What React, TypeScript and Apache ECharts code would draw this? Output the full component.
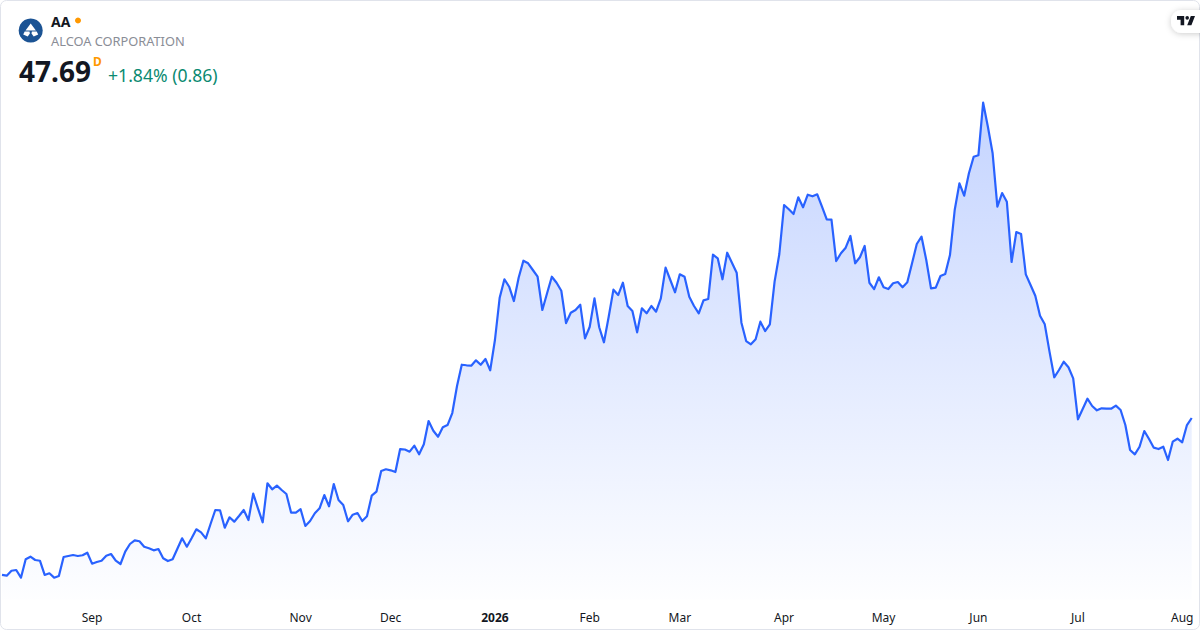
import React, { useEffect, useRef } from "react";
import * as echarts from "echarts";

const symbol = "AA";
const companyName = "ALCOA CORPORATION";
const lastPrice = "47.69";
const changeText = "+1.84% (0.86)";
const intervalMark = "D";

// Daily closes, one per trading day
const closes: number[] = [
  28.07, 27.98, 28.6, 28.69, 27.73, 30.03, 30.35, 29.94, 29.85, 28.07, 28.28, 27.73, 27.94, 30.31, 30.44, 30.56, 30.44, 30.53, 30.85,
  29.48, 29.69, 29.85, 30.48, 30.69, 29.85, 29.44, 30.98, 31.94, 32.4, 32.28, 31.6, 31.4, 31.15, 31.31, 30.15, 29.81, 30.03, 31.35, 32.65, 31.6,
  32.65, 33.78, 33.4, 32.65, 34.44, 36.19, 36.15, 33.98, 35.28, 34.73, 35.44, 36.19, 34.94, 38.23, 36.4, 34.65, 39.53, 38.78, 39.23, 38.69, 38.19, 35.85, 35.85,
  36.29, 34.19, 34.81, 35.78, 36.4, 38.06, 36.65, 39.44, 37.44, 36.81, 34.78, 35.6, 35.81, 34.81, 35.4, 37.98, 38.48,
  41.06, 41.28, 41.15, 40.94, 43.81, 43.75, 43.48, 44.23, 43.15, 44.4, 47.31, 46.1, 45.35, 46.53, 46.81, 48.31, 51.69, 54.35, 54.28, 54.23, 54.9, 54.35, 55.06, 53.65,
  57.44, 62.73, 65.03, 64.1, 62.31, 65.23, 67.35, 67.03, 66.19, 65.35, 61.19, 63.28, 65.35, 64.6, 63.6, 59.56,
  60.85, 61.19, 61.85, 57.65, 59.1, 62.65, 59.03, 57.15, 60.35, 63.73, 63.06, 64.6, 61.69, 61.06, 58.4, 61.4, 60.78, 61.69, 60.98,
  62.65, 66.48, 64.94, 63.4, 65.65, 65.35, 62.85, 61.69, 60.78, 62.4, 62.56, 68.1, 67.65, 65.03, 68.35, 67.1, 65.85, 59.6, 57.31, 56.9, 57.53, 59.73, 58.56, 59.4, 64.73, 68.19,
  74.31, 73.78, 73.19, 75.28, 74.03, 75.6, 75.4, 75.65, 74.1, 72.53, 72.48, 67.31, 68.28, 68.98, 70.44, 67.03, 67.78, 69.19, 64.6, 63.81, 65.28,
  64.03, 63.81, 64.53, 64.69, 64.03, 64.65, 67.03, 69.44, 70.35, 67.44, 63.9, 63.98, 65.44, 65.69, 68.06, 73.69, 77.03, 75.48, 78.28, 80.35,
  80.53, 87.1, 84.1, 80.78, 74.1, 75.81, 74.73, 67.19, 70.94, 70.69, 65.65, 64.31, 62.98, 60.48, 59.4, 55.98, 52.78, 53.69, 54.73, 54.03, 52.65,
  47.53, 48.81, 50.1, 49.19, 48.65, 48.9, 48.85, 48.85, 49.23, 48.69, 46.81, 43.69, 43.15, 44.1, 46.06, 45.06, 43.98, 43.81, 44.1, 42.44, 44.73, 45.1,
  44.65, 46.81, 47.69,
];

// Month labels and the trading-day index each one sits on
const tickLabels = ["Sep", "Oct", "Nov", "Dec", "2026", "Feb", "Mar", "Apr", "May", "Jun", "Jul", "Aug"];
const tickIndexes = [19, 40, 63, 82, 104, 124, 143, 165, 186, 206, 227, 249];

const categories = closes.map((_, i) => {
  const at = tickIndexes.indexOf(i);
  return at >= 0 ? tickLabels[at] : "";
});

const FONT = '"Noto Sans", "Open Sans", sans-serif';

echarts.graphic.registerShape(
  "tvLogo",
  echarts.graphic.extendPath("M14 6H2v6h6v9h6V6Zm12 15h-7l6-15h7l-6 15Zm-7-9a3 3 0 1 0 0-6 3 3 0 0 0 0 6Z", {}) as any
);
echarts.graphic.registerShape(
  "aaMark",
  echarts.graphic.extendPath(
    "M0 -7.5 L5.2 -0.6 L-5.2 -0.6 Z M-6 0.4 L-1.2 0.4 L-0.8 2.4 L-3 5.5 L-7.5 3.5 Z M6 0.4 L1.2 0.4 L0.8 2.4 L3 5.5 L7.5 3.5 Z",
    {}
  ) as any
);

export default function App() {
  const ref = useRef<HTMLDivElement>(null);
  useEffect(() => {
    const chart = echarts.init(ref.current!, undefined, { renderer: "svg" });
    chart.setOption({
      animation: false,
      backgroundColor: "#ffffff",
      grid: { left: 2, right: 8.3, top: 99.52, height: 500 },
      xAxis: {
        type: "category",
        data: categories,
        boundaryGap: false,
        axisLine: { show: false },
        axisTick: { show: false },
        splitLine: { show: false },
        axisLabel: {
          interval: (i: number) => tickIndexes.includes(i),
          margin: 12,
          color: "#131722",
          fontSize: 12,
          fontFamily: FONT,
          formatter: (v: string) => (v === "2026" ? "{y|2026}" : v),
          rich: { y: { fontWeight: "bold", fontSize: 12, color: "#131722", fontFamily: FONT } },
        },
      },
      yAxis: { type: "value", min: 25, max: 87.5, show: false, splitLine: { show: false } },
      series: [
        {
          type: "line",
          data: closes,
          showSymbol: false,
          symbol: "none",
          smooth: false,
          clip: false,
          lineStyle: { color: "#2962FF", width: 2.2, join: "round" },
          areaStyle: {
            color: new echarts.graphic.LinearGradient(0, 0, 0, 1, [
              { offset: 0, color: "rgba(41,98,255,0.39)" },
              { offset: 1, color: "rgba(41,98,255,0.01)" },
            ]),
          },
        },
      ],
      graphic: [
        { type: "rect", silent: true, shape: { x: 0.5, y: 0.5, width: 1199, height: 629, r: 6 }, style: { fill: "none", stroke: "#e0e3eb", lineWidth: 1 }, z: 50 },
        { type: "circle", silent: true, shape: { cx: 30.7, cy: 30.5, r: 12 }, style: { fill: "#1b5394" }, z: 60 },
        { type: "aaMark", silent: true, x: 30.7, y: 31, style: { fill: "#ffffff" }, z: 61 },
        { type: "text", silent: true, x: 51, y: 21, style: { text: symbol, font: `700 14px ${FONT}`, fill: "#131722", verticalAlign: "middle" }, z: 60 },
        { type: "circle", silent: true, shape: { cx: 78, cy: 20.5, r: 3 }, style: { fill: "#ff9800" }, z: 60 },
        { type: "text", silent: true, x: 51, y: 41, style: { text: companyName, font: `400 12.8px ${FONT}`, fill: "#8a8d96", verticalAlign: "middle" }, z: 60 },
        { type: "text", silent: true, x: 19, y: 71, style: { text: lastPrice, font: `700 28px ${FONT}`, fill: "#131722", verticalAlign: "middle" }, z: 60 },
        { type: "text", silent: true, x: 93, y: 61.5, style: { text: intervalMark, font: `700 12px ${FONT}`, fill: "#ff9800", verticalAlign: "middle" }, z: 60 },
        { type: "text", silent: true, x: 108, y: 75, style: { text: changeText, font: `400 17.6px ${FONT}`, fill: "#0b8a71", verticalAlign: "middle" }, z: 60 },
        { type: "rect", silent: true, shape: { x: 1171, y: 10, width: 50, height: 23, r: 11 }, style: { fill: "#ffffff", shadowBlur: 6, shadowColor: "rgba(0,0,0,0.2)", shadowOffsetY: 1 }, z: 60 },
        { type: "tvLogo", silent: true, x: 1175.8, y: 12.2, scaleX: 0.6, scaleY: 0.62, style: { fill: "#131722" }, z: 61 },
      ],
    });
    return () => chart.dispose();
  }, []);
  return <div ref={ref} style={{ position: "absolute", left: 0, top: 0, width: 1200, height: 630 }} />;
}
